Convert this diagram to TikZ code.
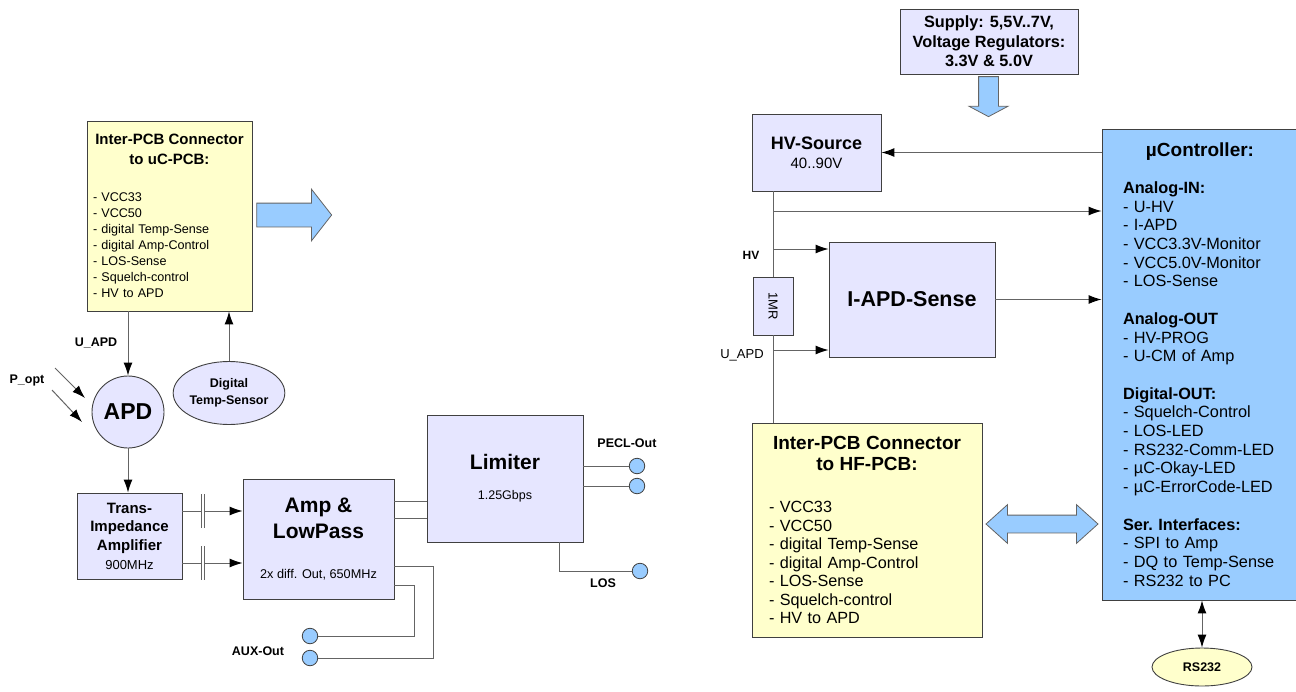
\documentclass[tikz,border=0pt]{standalone}
\usepackage{graphicx}
\usepackage{fontspec}
\setmainfont{Liberation Sans}
\usetikzlibrary{arrows.meta,shapes.geometric,shapes.arrows}

\definecolor{boxfill}{RGB}{230,230,255}
\definecolor{padfill}{RGB}{255,255,204}
\definecolor{ucfill}{RGB}{153,204,255}
\definecolor{boxline}{RGB}{64,64,64}
\definecolor{wire}{RGB}{100,100,100}

\newcommand{\setpx}[2]{\fontsize{#1}{#2}\selectfont}

\begin{document}
\begin{tikzpicture}[x=1pt, y=-1pt,
    block/.style={rectangle, draw=boxline, fill=boxfill, line width=0.9pt,
        align=center, inner sep=0pt},
    pcb/.style={rectangle, draw=boxline, fill=padfill, line width=0.9pt,
        align=left, inner sep=0pt},
    blob/.style={ellipse, draw=boxline, line width=0.9pt, inner sep=0pt,
        align=center, font=\bfseries\setpx{12.5}{17}},
    pin/.style={circle, draw=boxline, fill=ucfill, line width=0.8pt,
        minimum size=15.5pt, inner sep=0pt},
    tag/.style={font=\bfseries\setpx{12.5}{15}},
    wire/.style={draw=wire, line width=1pt},
    sig/.style={wire, -{Latex[length=13pt, width=9pt, color=black]}},
    bisig/.style={wire, {Latex[length=13pt, width=9pt, color=black]}-{Latex[length=13pt, width=9pt, color=black]}},
    fat/.style={draw=wire, fill=ucfill, line width=0.8pt}
]
\useasboundingbox (0,0) rectangle (1296,691);

% HF-PCB (left half)
\node (ucpcb) [pcb, minimum width=165pt, minimum height=190pt, text width=153pt,
    inner xsep=6pt, font=\setpx{12.6}{16}] at (169.5,216) {%
  \makebox[\linewidth]{\bfseries\setpx{15}{16}Inter-PCB Connector}\\[4pt]
  \makebox[\linewidth]{\bfseries\setpx{15}{16}to uC-PCB:}\\[21pt]
  - VCC33\\
  - VCC50\\
  - digital Temp-Sense\\
  - digital Amp-Control\\
  - LOS-Sense\\
  - Squelch-control\\
  - HV to APD};
\node (fwd) [fat, single arrow, inner sep=11.5pt, minimum height=75pt,
    single arrow head extend=14pt, single arrow tip angle=104] at (289.5,215) {};
\node (apd) [block, circle, minimum size=72pt, font=\bfseries\setpx{23}{26}] at (128,412) {APD};
\node (temp) [blob, fill=boxfill, minimum width=100pt, minimum height=63pt] at (229,393) {Digital\\Temp-Sensor};
\node (tia) [block, minimum width=105pt, minimum height=86pt, font=\bfseries\setpx{15}{18.7}]
    at (129.5,536) {Trans-\\Impedance\\Amplifier\\{\mdseries\setpx{13}{18.7}900MHz}};
\node (amp) [block, minimum width=151pt, minimum height=120pt, font=\bfseries\setpx{21}{26}]
    at (318.5,539) {Amp \&\\LowPass\\[14pt]{\mdseries\setpx{12.7}{15}2x diff. Out, 650MHz}};
\node (lim) [block, minimum width=156pt, minimum height=127pt, font=\bfseries\setpx{21}{26}]
    at (505,478.5) {Limiter\\[4pt]{\mdseries\setpx{12.5}{15}1.25Gbps}};
\node (aux1) [pin] at (310,636) {};
\node (aux2) [pin] at (310,658) {};
\node (pecl1) [pin] at (637,466) {};
\node (pecl2) [pin] at (637,486) {};
\node (los) [pin] at (640,571) {};

\node (uapdL) [tag] at (96,343) {U\_APD};
\node (popt) [tag] at (27,380) {P\_opt};
\node (peclL) [tag] at (627,443) {PECL-Out};
\node (losL) [tag] at (603,583) {LOS};
\node (auxL) [tag] at (258,651) {AUX-Out};

\coordinate (light1) at (55,368);
\coordinate (hit1) at (85,398);
\coordinate (light2) at (52,390);
\coordinate (hit2) at (82,422);
\draw[sig] (light1) -- (hit1);
\draw[sig] (light2) -- (hit2);

\draw[sig] (apd.north |- ucpcb.south) -- (apd.north);
\draw[sig] (temp.north) -- (temp.north |- ucpcb.south);
\draw[sig] (apd.south) -- (apd.south |- tia.north);

% coupling capacitors
\foreach \cy/\cap in {511/capA, 563/capB} {
  \coordinate (\cap) at (203,\cy);
  \draw[wire] (\cap -| tia.east) -- ([xshift=-1.3pt]\cap);
  \draw[sig] ([xshift=1.3pt]\cap) -- (\cap -| amp.west);
  \draw[wire] ([xshift=-1.3pt, yshift=17pt]\cap) -- ([xshift=-1.3pt, yshift=-17pt]\cap);
  \draw[wire] ([xshift=1.3pt, yshift=17pt]\cap) -- ([xshift=1.3pt, yshift=-17pt]\cap);
}

\draw[wire] ([yshift=38pt]amp.east) -- ([yshift=38pt]amp.east -| lim.west);
\draw[wire] ([yshift=21pt]amp.east) -- ([yshift=21pt]amp.east -| lim.west);
\draw[wire] ([yshift=-27pt]amp.east) -- ++(39,0) |- (aux2);
\draw[wire] ([yshift=-46pt]amp.east) -- ++(20,0) |- (aux1);
\draw[wire] (pecl1 -| lim.east) -- (pecl1);
\draw[wire] (pecl2 -| lim.east) -- (pecl2);
\draw[wire] ([xshift=54pt]lim.south) |- (los);

% uC-PCB (right half)
\node (supply) [block, minimum width=178pt, minimum height=65pt, font=\bfseries\setpx{16.3}{19.5}]
    at (989,41.5) {Supply: 5,5V..7V,\\Voltage Regulators:\\3.3V \& 5.0V};
\node (feed) [fat, single arrow, shape border rotate=270, inner sep=9.5pt, minimum height=40pt,
    single arrow head extend=9.5pt, single arrow tip angle=124] at (988.5,94) {};
\node (hvsrc) [block, minimum width=129pt, minimum height=77pt, font=\bfseries\setpx{18}{19}]
    at (816.5,152.5) {HV-Source\\{\mdseries\setpx{15}{19}40..90V}};
\node (iapd) [block, minimum width=166pt, minimum height=115pt, font=\bfseries\setpx{21.5}{24}]
    at (912,299.5) {I-APD-Sense};
\node (res) [block, minimum width=40pt, minimum height=58pt, font=\setpx{13}{15}]
    at (773,306) {\rotatebox{-90}{1MR}};
\node (uc) [pcb, fill=ucfill, minimum width=196pt, minimum height=471pt, text width=154pt,
    inner xsep=21pt, font=\setpx{16.3}{18.7}] at (1200,364.5) {%
  \makebox[\linewidth]{\bfseries\setpx{19}{18.7}µController:}\\[18.3pt]
  \textbf{Analog-IN:}\\
  - U-HV\\
  - I-APD\\
  - VCC3.3V-Monitor\\
  - VCC5.0V-Monitor\\
  - LOS-Sense\\[18.7pt]
  \textbf{Analog-OUT}\\
  - HV-PROG\\
  - U-CM of Amp\\[18.7pt]
  \textbf{Digital-OUT:}\\
  - Squelch-Control\\
  - LOS-LED\\
  - RS232-Comm-LED\\
  - µC-Okay-LED\\
  - µC-ErrorCode-LED\\[18.7pt]
  \textbf{Ser.\ Interfaces:}\\
  - SPI to Amp\\
  - DQ to Temp-Sense\\
  - RS232 to PC};
\node (hfpcb) [pcb, minimum width=230pt, minimum height=214pt, text width=196pt,
    inner xsep=17pt, font=\setpx{16.2}{18.5}] at (867,530) {%
  \makebox[\linewidth]{\bfseries\setpx{19}{18.5}Inter-PCB Connector}\\[2.5pt]
  \makebox[\linewidth]{\bfseries\setpx{19}{18.5}to HF-PCB:}\\[23.5pt]
  - VCC33\\
  - VCC50\\
  - digital Temp-Sense\\
  - digital Amp-Control\\
  - LOS-Sense\\
  - Squelch-control\\
  - HV to APD};
\node (link) [fat, double arrow, inner sep=8.5pt, minimum height=112pt,
    double arrow head extend=10.5pt, double arrow tip angle=84] at (1042,524) {};
\node (rs232) [blob, fill=padfill, minimum width=100pt, minimum height=38pt] at (1202,667) {RS232};

\node (hvL) [tag, font=\bfseries\setpx{12}{15}] at (751,255) {HV};
\node (uapdR) [font=\setpx{13}{15}] at (742,355) {U\_APD};

\coordinate (uhv) at (773,211);
\coordinate (hvin) at (773,249);
\coordinate (apdin) at (773,350);
\draw[wire] (res.north |- hvsrc.south) -- (res.north);
\draw[wire] (res.south) -- (res.south |- hfpcb.north);
\draw[sig] (uhv) -- (uhv -| uc.west);
\draw[sig] (hvin) -- (hvin -| iapd.west);
\draw[sig] (apdin) -- (apdin -| iapd.west);
\draw[sig] (uc.west |- hvsrc.east) -- (hvsrc.east);
\draw[sig] (iapd.east) -- (iapd.east -| uc.west);
\draw[bisig] (rs232.north |- uc.south) -- (rs232.north);

\end{tikzpicture}
\end{document}
